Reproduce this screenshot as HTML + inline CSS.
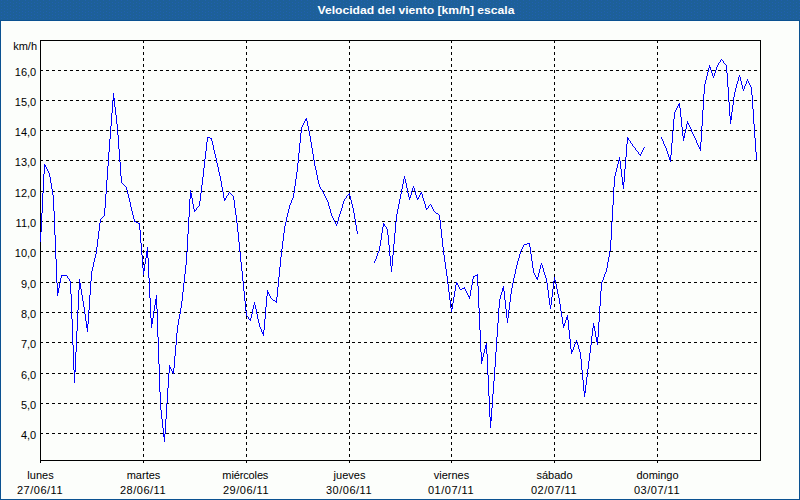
<!DOCTYPE html>
<html><head><meta charset="utf-8"><title>Velocidad del viento</title>
<style>
html,body{margin:0;padding:0;background:#fcfefb;}
body{width:800px;height:500px;overflow:hidden;position:relative;font-family:"Liberation Sans",sans-serif;}
svg{position:absolute;left:0;top:0;display:block;}
text{font-family:"Liberation Sans",sans-serif;font-size:11px;fill:#000;}
.t{font-weight:bold;fill:#fff;font-size:11px;}
</style></head><body>
<svg width="800" height="500" viewBox="0 0 800 500">
<rect x="0" y="0" width="800" height="500" fill="#fcfefb"/>
<g shape-rendering="crispEdges">
<defs><pattern id="dp" x="0" y="0" width="6" height="3" patternUnits="userSpaceOnUse"><rect width="6" height="3" fill="#1d6099"/><rect x="1" y="0" width="1" height="1" fill="#2060b0"/><rect x="4" y="2" width="1" height="1" fill="#2060b0"/></pattern></defs>
<rect x="0" y="0" width="800" height="20" fill="url(#dp)"/>
<rect x="0" y="20" width="800" height="1" fill="#0b5291"/>
<rect x="0" y="20" width="1" height="480" fill="#0b5291"/>
<rect x="799" y="20" width="1" height="480" fill="#0b5291"/>
<rect x="0" y="499" width="800" height="1" fill="#0b5291"/>
<g stroke="#000" stroke-width="1" stroke-dasharray="3 3" fill="none">
<line x1="40" y1="70.5" x2="760" y2="70.5"/>
<line x1="40" y1="100.5" x2="760" y2="100.5"/>
<line x1="40" y1="130.5" x2="760" y2="130.5"/>
<line x1="40" y1="160.5" x2="760" y2="160.5"/>
<line x1="40" y1="191.5" x2="760" y2="191.5"/>
<line x1="40" y1="221.5" x2="760" y2="221.5"/>
<line x1="40" y1="251.5" x2="760" y2="251.5"/>
<line x1="40" y1="282.5" x2="760" y2="282.5"/>
<line x1="40" y1="312.5" x2="760" y2="312.5"/>
<line x1="40" y1="342.5" x2="760" y2="342.5"/>
<line x1="40" y1="373.5" x2="760" y2="373.5"/>
<line x1="40" y1="403.5" x2="760" y2="403.5"/>
<line x1="40" y1="433.5" x2="760" y2="433.5"/>
<line x1="143.5" y1="40" x2="143.5" y2="460"/>
<line x1="246.5" y1="40" x2="246.5" y2="460"/>
<line x1="349.5" y1="40" x2="349.5" y2="460"/>
<line x1="451.5" y1="40" x2="451.5" y2="460"/>
<line x1="554.5" y1="40" x2="554.5" y2="460"/>
<line x1="657.5" y1="40" x2="657.5" y2="460"/>
</g>
<rect x="40.5" y="40.5" width="720" height="420" fill="none" stroke="#000" stroke-width="1"/>
<rect x="40" y="461" width="1" height="2" fill="#000"/>
<rect x="143" y="461" width="1" height="2" fill="#000"/>
<rect x="246" y="461" width="1" height="2" fill="#000"/>
<rect x="349" y="461" width="1" height="2" fill="#000"/>
<rect x="451" y="461" width="1" height="2" fill="#000"/>
<rect x="554" y="461" width="1" height="2" fill="#000"/>
<rect x="657" y="461" width="1" height="2" fill="#000"/>
<path fill="#0000ff" d="M40 232h1v10h-1zM41 213h1v19h-1zM42 193h1v20h-1zM43 174h1v19h-1zM44 164h1v10h-1zM45 165h1v2h-1zM46 167h1v2h-1zM47 169h1v2h-1zM48 171h1v2h-1zM49 173h1v4h-1zM50 177h1v6h-1zM51 183h1v6h-1zM52 189h1v6h-1zM53 195h1v16h-1zM54 211h1v24h-1zM55 235h1v24h-1zM56 259h1v24h-1zM57 283h1v13h-1zM58 288h1v5h-1zM59 283h1v5h-1zM60 278h1v5h-1zM61 275h1v3h-1zM62 275h1v1h-1zM63 275h1v1h-1zM64 275h1v1h-1zM65 275h1v1h-1zM66 275h1v1h-1zM67 276h1v2h-1zM68 278h1v1h-1zM69 279h1v2h-1zM70 281h1v13h-1zM71 294h1v25h-1zM72 319h1v26h-1zM73 345h1v25h-1zM74 370h1v13h-1zM75 352h1v20h-1zM76 331h1v21h-1zM77 310h1v21h-1zM78 290h1v20h-1zM79 279h1v11h-1zM80 283h1v6h-1zM81 289h1v6h-1zM82 295h1v6h-1zM83 301h1v6h-1zM84 307h1v7h-1zM85 314h1v7h-1zM86 321h1v7h-1zM87 324h1v8h-1zM88 310h1v14h-1zM89 295h1v15h-1zM90 281h1v14h-1zM91 271h1v10h-1zM92 267h1v4h-1zM93 262h1v5h-1zM94 258h1v4h-1zM95 254h1v4h-1zM96 247h1v7h-1zM97 239h1v8h-1zM98 231h1v8h-1zM99 223h1v8h-1zM100 219h1v4h-1zM101 218h1v1h-1zM102 217h1v1h-1zM103 216h1v1h-1zM104 208h1v8h-1zM105 194h1v14h-1zM106 180h1v14h-1zM107 166h1v14h-1zM108 152h1v14h-1zM109 139h1v13h-1zM110 126h1v13h-1zM111 113h1v13h-1zM112 100h1v13h-1zM113 93h1v7h-1zM114 98h1v9h-1zM115 107h1v8h-1zM116 115h1v9h-1zM117 124h1v11h-1zM118 135h1v14h-1zM119 149h1v13h-1zM120 162h1v14h-1zM121 176h1v7h-1zM122 183h1v1h-1zM123 184h1v1h-1zM124 185h1v1h-1zM125 186h1v1h-1zM126 187h1v3h-1zM127 190h1v4h-1zM128 194h1v4h-1zM129 198h1v4h-1zM130 202h1v5h-1zM131 207h1v4h-1zM132 211h1v4h-1zM133 215h1v4h-1zM134 219h1v3h-1zM135 221h1v1h-1zM136 222h1v1h-1zM137 222h1v1h-1zM138 223h1v1h-1zM139 223h1v7h-1zM140 230h1v13h-1zM141 243h1v12h-1zM142 255h1v13h-1zM143 268h1v7h-1zM144 264h1v7h-1zM145 258h1v6h-1zM146 251h1v7h-1zM147 247h1v11h-1zM148 258h1v20h-1zM149 278h1v20h-1zM150 298h1v20h-1zM151 318h1v10h-1zM152 318h1v6h-1zM153 311h1v7h-1zM154 305h1v6h-1zM155 299h1v6h-1zM156 295h1v14h-1zM157 309h1v28h-1zM158 337h1v27h-1zM159 364h1v28h-1zM160 392h1v18h-1zM161 410h1v9h-1zM162 419h1v9h-1zM163 428h1v9h-1zM164 434h1v8h-1zM165 419h1v15h-1zM166 403h1v16h-1zM167 388h1v15h-1zM168 373h1v15h-1zM169 365h1v8h-1zM170 367h1v2h-1zM171 369h1v2h-1zM172 371h1v2h-1zM173 368h1v6h-1zM174 356h1v12h-1zM175 345h1v11h-1zM176 333h1v12h-1zM177 325h1v8h-1zM178 319h1v6h-1zM179 314h1v5h-1zM180 308h1v6h-1zM181 301h1v7h-1zM182 292h1v9h-1zM183 283h1v9h-1zM184 274h1v9h-1zM185 265h1v9h-1zM186 252h1v13h-1zM187 234h1v18h-1zM188 217h1v17h-1zM189 199h1v18h-1zM190 190h1v9h-1zM191 193h1v5h-1zM192 198h1v6h-1zM193 204h1v5h-1zM194 209h1v3h-1zM195 210h1v1h-1zM196 208h1v2h-1zM197 207h1v1h-1zM198 206h1v1h-1zM199 201h1v5h-1zM200 193h1v8h-1zM201 185h1v8h-1zM202 177h1v8h-1zM203 168h1v9h-1zM204 159h1v9h-1zM205 151h1v8h-1zM206 142h1v9h-1zM207 137h1v5h-1zM208 137h1v1h-1zM209 137h1v1h-1zM210 138h1v1h-1zM211 138h1v3h-1zM212 141h1v4h-1zM213 145h1v5h-1zM214 150h1v4h-1zM215 154h1v4h-1zM216 158h1v5h-1zM217 163h1v4h-1zM218 167h1v5h-1zM219 172h1v4h-1zM220 176h1v5h-1zM221 181h1v6h-1zM222 187h1v5h-1zM223 192h1v6h-1zM224 198h1v3h-1zM225 198h1v2h-1zM226 196h1v2h-1zM227 195h1v1h-1zM228 193h1v2h-1zM229 192h1v1h-1zM230 193h1v1h-1zM231 194h1v1h-1zM232 195h1v1h-1zM233 196h1v4h-1zM234 200h1v8h-1zM235 208h1v7h-1zM236 215h1v8h-1zM237 223h1v9h-1zM238 232h1v10h-1zM239 242h1v10h-1zM240 252h1v10h-1zM241 262h1v9h-1zM242 271h1v10h-1zM243 281h1v10h-1zM244 291h1v10h-1zM245 301h1v10h-1zM246 311h1v5h-1zM247 316h1v1h-1zM248 317h1v2h-1zM249 319h1v1h-1zM250 318h1v3h-1zM251 314h1v4h-1zM252 309h1v5h-1zM253 305h1v4h-1zM254 302h1v3h-1zM255 305h1v4h-1zM256 309h1v5h-1zM257 314h1v5h-1zM258 319h1v4h-1zM259 323h1v4h-1zM260 327h1v2h-1zM261 329h1v3h-1zM262 332h1v2h-1zM263 330h1v6h-1zM264 319h1v11h-1zM265 307h1v12h-1zM266 296h1v11h-1zM267 290h1v6h-1zM268 292h1v2h-1zM269 294h1v2h-1zM270 296h1v2h-1zM271 298h1v1h-1zM272 299h1v1h-1zM273 300h1v1h-1zM274 300h1v1h-1zM275 301h1v1h-1zM276 297h1v6h-1zM277 287h1v10h-1zM278 277h1v10h-1zM279 267h1v10h-1zM280 257h1v10h-1zM281 249h1v8h-1zM282 241h1v8h-1zM283 233h1v8h-1zM284 226h1v7h-1zM285 222h1v4h-1zM286 217h1v5h-1zM287 213h1v4h-1zM288 209h1v4h-1zM289 205h1v4h-1zM290 203h1v2h-1zM291 200h1v3h-1zM292 198h1v2h-1zM293 193h1v5h-1zM294 186h1v7h-1zM295 179h1v7h-1zM296 172h1v7h-1zM297 163h1v9h-1zM298 153h1v10h-1zM299 143h1v10h-1zM300 133h1v10h-1zM301 127h1v6h-1zM302 125h1v2h-1zM303 123h1v2h-1zM304 121h1v2h-1zM305 119h1v2h-1zM306 118h1v3h-1zM307 121h1v5h-1zM308 126h1v5h-1zM309 131h1v5h-1zM310 136h1v6h-1zM311 142h1v6h-1zM312 148h1v6h-1zM313 154h1v6h-1zM314 160h1v6h-1zM315 166h1v4h-1zM316 170h1v5h-1zM317 175h1v5h-1zM318 180h1v4h-1zM319 184h1v3h-1zM320 187h1v2h-1zM321 189h1v1h-1zM322 190h1v2h-1zM323 192h1v2h-1zM324 194h1v2h-1zM325 196h1v2h-1zM326 198h1v2h-1zM327 200h1v2h-1zM328 202h1v4h-1zM329 206h1v3h-1zM330 209h1v4h-1zM331 213h1v3h-1zM332 216h1v2h-1zM333 218h1v2h-1zM334 220h1v2h-1zM335 222h1v2h-1zM336 224h1v2h-1zM337 221h1v3h-1zM338 217h1v4h-1zM339 214h1v3h-1zM340 211h1v3h-1zM341 208h1v3h-1zM342 204h1v4h-1zM343 201h1v3h-1zM344 199h1v2h-1zM345 198h1v1h-1zM346 196h1v2h-1zM347 195h1v1h-1zM348 194h1v1h-1zM349 193h1v3h-1zM350 196h1v4h-1zM351 200h1v4h-1zM352 204h1v4h-1zM353 208h1v5h-1zM354 213h1v6h-1zM355 219h1v6h-1zM356 225h1v6h-1zM357 231h1v3h-1zM374 261h1v2h-1zM375 259h1v2h-1zM376 256h1v3h-1zM377 253h1v3h-1zM378 251h1v2h-1zM379 246h1v5h-1zM380 240h1v6h-1zM381 233h1v7h-1zM382 227h1v6h-1zM383 223h1v4h-1zM384 224h1v2h-1zM385 226h1v1h-1zM386 227h1v2h-1zM387 229h1v6h-1zM388 235h1v10h-1zM389 245h1v11h-1zM390 256h1v10h-1zM391 266h1v6h-1zM392 255h1v11h-1zM393 244h1v11h-1zM394 233h1v11h-1zM395 222h1v11h-1zM396 214h1v8h-1zM397 209h1v5h-1zM398 204h1v5h-1zM399 199h1v5h-1zM400 194h1v5h-1zM401 189h1v5h-1zM402 184h1v5h-1zM403 179h1v5h-1zM404 176h1v3h-1zM405 179h1v4h-1zM406 183h1v5h-1zM407 188h1v5h-1zM408 193h1v4h-1zM409 197h1v3h-1zM410 195h1v3h-1zM411 191h1v4h-1zM412 188h1v3h-1zM413 186h1v2h-1zM414 188h1v3h-1zM415 191h1v4h-1zM416 195h1v3h-1zM417 198h1v2h-1zM418 197h1v2h-1zM419 195h1v2h-1zM420 193h1v2h-1zM421 192h1v2h-1zM422 194h1v4h-1zM423 198h1v3h-1zM424 201h1v3h-1zM425 204h1v4h-1zM426 208h1v2h-1zM427 208h1v1h-1zM428 206h1v2h-1zM429 205h1v1h-1zM430 204h1v1h-1zM431 205h1v2h-1zM432 207h1v2h-1zM433 209h1v2h-1zM434 211h1v1h-1zM435 212h1v1h-1zM436 213h1v1h-1zM437 213h1v1h-1zM438 214h1v1h-1zM439 215h1v5h-1zM440 220h1v9h-1zM441 229h1v9h-1zM442 238h1v9h-1zM443 247h1v8h-1zM444 255h1v7h-1zM445 262h1v7h-1zM446 269h1v7h-1zM447 276h1v8h-1zM448 284h1v8h-1zM449 292h1v8h-1zM450 300h1v8h-1zM451 308h1v4h-1zM452 303h1v6h-1zM453 297h1v6h-1zM454 291h1v6h-1zM455 285h1v6h-1zM456 282h1v3h-1zM457 283h1v2h-1zM458 285h1v2h-1zM459 287h1v2h-1zM460 289h1v1h-1zM461 289h1v1h-1zM462 288h1v1h-1zM463 288h1v1h-1zM464 287h1v2h-1zM465 289h1v2h-1zM466 291h1v2h-1zM467 293h1v2h-1zM468 295h1v2h-1zM469 296h1v3h-1zM470 290h1v6h-1zM471 285h1v5h-1zM472 279h1v6h-1zM473 276h1v3h-1zM474 276h1v1h-1zM475 275h1v1h-1zM476 275h1v1h-1zM477 274h1v12h-1zM478 286h1v22h-1zM479 308h1v22h-1zM480 330h1v22h-1zM481 352h1v12h-1zM482 357h1v4h-1zM483 353h1v4h-1zM484 349h1v4h-1zM485 345h1v4h-1zM486 343h1v11h-1zM487 354h1v21h-1zM488 375h1v21h-1zM489 396h1v21h-1zM490 417h1v11h-1zM491 408h1v13h-1zM492 394h1v14h-1zM493 381h1v13h-1zM494 367h1v14h-1zM495 352h1v15h-1zM496 337h1v15h-1zM497 323h1v14h-1zM498 308h1v15h-1zM499 299h1v9h-1zM500 295h1v4h-1zM501 292h1v3h-1zM502 288h1v4h-1zM503 286h1v5h-1zM504 291h1v9h-1zM505 300h1v9h-1zM506 309h1v9h-1zM507 318h1v5h-1zM508 310h1v8h-1zM509 302h1v8h-1zM510 294h1v8h-1zM511 288h1v6h-1zM512 283h1v5h-1zM513 278h1v5h-1zM514 274h1v4h-1zM515 269h1v5h-1zM516 265h1v4h-1zM517 261h1v4h-1zM518 258h1v3h-1zM519 254h1v4h-1zM520 251h1v3h-1zM521 249h1v2h-1zM522 247h1v2h-1zM523 245h1v2h-1zM524 244h1v1h-1zM525 244h1v1h-1zM526 244h1v1h-1zM527 243h1v1h-1zM528 243h1v1h-1zM529 243h1v4h-1zM530 247h1v7h-1zM531 254h1v7h-1zM532 261h1v7h-1zM533 268h1v5h-1zM534 273h1v2h-1zM535 275h1v2h-1zM536 277h1v2h-1zM537 277h1v3h-1zM538 273h1v4h-1zM539 269h1v4h-1zM540 265h1v4h-1zM541 263h1v2h-1zM542 265h1v3h-1zM543 268h1v4h-1zM544 272h1v3h-1zM545 275h1v3h-1zM546 278h1v5h-1zM547 283h1v7h-1zM548 290h1v8h-1zM549 298h1v7h-1zM550 305h1v4h-1zM551 297h1v8h-1zM552 289h1v8h-1zM553 281h1v8h-1zM554 277h1v4h-1zM555 280h1v4h-1zM556 284h1v5h-1zM557 289h1v5h-1zM558 294h1v4h-1zM559 298h1v6h-1zM560 304h1v7h-1zM561 311h1v6h-1zM562 317h1v7h-1zM563 324h1v4h-1zM564 323h1v3h-1zM565 320h1v3h-1zM566 317h1v3h-1zM567 315h1v5h-1zM568 320h1v10h-1zM569 330h1v9h-1zM570 339h1v10h-1zM571 349h1v5h-1zM572 350h1v2h-1zM573 347h1v3h-1zM574 344h1v3h-1zM575 342h1v2h-1zM576 340h1v2h-1zM577 342h1v3h-1zM578 345h1v4h-1zM579 349h1v3h-1zM580 352h1v7h-1zM581 359h1v11h-1zM582 370h1v10h-1zM583 380h1v11h-1zM584 391h1v6h-1zM585 385h1v8h-1zM586 377h1v8h-1zM587 369h1v8h-1zM588 361h1v8h-1zM589 353h1v8h-1zM590 345h1v8h-1zM591 336h1v9h-1zM592 328h1v8h-1zM593 323h1v5h-1zM594 326h1v5h-1zM595 331h1v6h-1zM596 337h1v5h-1zM597 337h1v8h-1zM598 322h1v15h-1zM599 306h1v16h-1zM600 291h1v15h-1zM601 282h1v9h-1zM602 280h1v2h-1zM603 277h1v3h-1zM604 274h1v3h-1zM605 272h1v2h-1zM606 268h1v4h-1zM607 262h1v6h-1zM608 257h1v5h-1zM609 251h1v6h-1zM610 240h1v11h-1zM611 222h1v18h-1zM612 205h1v17h-1zM613 187h1v18h-1zM614 176h1v11h-1zM615 172h1v4h-1zM616 168h1v4h-1zM617 164h1v4h-1zM618 160h1v4h-1zM619 157h1v4h-1zM620 161h1v8h-1zM621 169h1v8h-1zM622 177h1v8h-1zM623 182h1v7h-1zM624 169h1v13h-1zM625 157h1v12h-1zM626 144h1v13h-1zM627 137h1v7h-1zM628 138h1v2h-1zM629 140h1v1h-1zM630 141h1v2h-1zM631 143h1v1h-1zM632 144h1v2h-1zM633 146h1v1h-1zM634 147h1v1h-1zM635 148h1v2h-1zM636 150h1v1h-1zM637 151h1v1h-1zM638 152h1v2h-1zM639 154h1v1h-1zM640 154h1v2h-1zM641 152h1v2h-1zM642 150h1v2h-1zM643 148h1v2h-1zM644 147h1v1h-1zM661 137h1v2h-1zM662 139h1v2h-1zM663 141h1v3h-1zM664 144h1v2h-1zM665 146h1v2h-1zM666 148h1v3h-1zM667 151h1v3h-1zM668 154h1v3h-1zM669 157h1v3h-1zM670 155h1v7h-1zM671 143h1v12h-1zM672 131h1v12h-1zM673 119h1v12h-1zM674 112h1v7h-1zM675 110h1v2h-1zM676 108h1v2h-1zM677 106h1v2h-1zM678 104h1v2h-1zM679 103h1v5h-1zM680 108h1v9h-1zM681 117h1v10h-1zM682 127h1v9h-1zM683 136h1v5h-1zM684 133h1v5h-1zM685 129h1v4h-1zM686 124h1v5h-1zM687 121h1v3h-1zM688 123h1v2h-1zM689 125h1v2h-1zM690 127h1v2h-1zM691 129h1v3h-1zM692 132h1v2h-1zM693 134h1v2h-1zM694 136h1v2h-1zM695 138h1v2h-1zM696 140h1v3h-1zM697 143h1v2h-1zM698 145h1v2h-1zM699 147h1v2h-1zM700 142h1v9h-1zM701 126h1v16h-1zM702 110h1v16h-1zM703 94h1v16h-1zM704 84h1v10h-1zM705 80h1v4h-1zM706 76h1v4h-1zM707 72h1v4h-1zM708 68h1v4h-1zM709 65h1v3h-1zM710 67h1v3h-1zM711 70h1v3h-1zM712 73h1v3h-1zM713 76h1v2h-1zM714 73h1v3h-1zM715 70h1v3h-1zM716 67h1v3h-1zM717 65h1v2h-1zM718 63h1v2h-1zM719 62h1v1h-1zM720 60h1v2h-1zM721 59h1v1h-1zM722 60h1v1h-1zM723 61h1v2h-1zM724 63h1v1h-1zM725 64h1v1h-1zM726 65h1v8h-1zM727 73h1v14h-1zM728 87h1v15h-1zM729 102h1v14h-1zM730 116h1v8h-1zM731 112h1v8h-1zM732 105h1v7h-1zM733 97h1v8h-1zM734 92h1v5h-1zM735 88h1v4h-1zM736 84h1v4h-1zM737 81h1v3h-1zM738 77h1v4h-1zM739 75h1v2h-1zM740 77h1v4h-1zM741 81h1v4h-1zM742 85h1v4h-1zM743 89h1v2h-1zM744 86h1v3h-1zM745 84h1v2h-1zM746 81h1v3h-1zM747 79h1v2h-1zM748 81h1v2h-1zM749 83h1v2h-1zM750 85h1v2h-1zM751 87h1v8h-1zM752 95h1v14h-1zM753 109h1v15h-1zM754 124h1v14h-1zM755 138h1v14h-1zM756 152h1v8h-1z"/>
</g>
<text class="t" x="317.5" y="14" textLength="197" lengthAdjust="spacingAndGlyphs">Velocidad del viento [km/h] escala</text>
<text x="37" y="50" text-anchor="end">km/h</text>
<text x="36.2" y="76" text-anchor="end">16,0</text>
<text x="36.2" y="106" text-anchor="end">15,0</text>
<text x="36.2" y="136" text-anchor="end">14,0</text>
<text x="36.2" y="166" text-anchor="end">13,0</text>
<text x="36.2" y="197" text-anchor="end">12,0</text>
<text x="36.2" y="227" text-anchor="end">11,0</text>
<text x="36.2" y="257" text-anchor="end">10,0</text>
<text x="36.2" y="288" text-anchor="end">9,0</text>
<text x="36.2" y="318" text-anchor="end">8,0</text>
<text x="36.2" y="348" text-anchor="end">7,0</text>
<text x="36.2" y="379" text-anchor="end">6,0</text>
<text x="36.2" y="409" text-anchor="end">5,0</text>
<text x="36.2" y="439" text-anchor="end">4,0</text>
<text x="40.5" y="479" text-anchor="middle">lunes</text>
<text x="17" y="494" textLength="45.5" lengthAdjust="spacing">27/06/11</text>
<text x="143.5" y="479" text-anchor="middle">martes</text>
<text x="120" y="494" textLength="45.5" lengthAdjust="spacing">28/06/11</text>
<text x="245.3" y="479" text-anchor="middle" style="letter-spacing:-0.13px">miércoles</text>
<text x="223" y="494" textLength="45.5" lengthAdjust="spacing">29/06/11</text>
<text x="349.5" y="479" text-anchor="middle">jueves</text>
<text x="326" y="494" textLength="45.5" lengthAdjust="spacing">30/06/11</text>
<text x="451.5" y="479" text-anchor="middle">viernes</text>
<text x="428" y="494" textLength="45.5" lengthAdjust="spacing">01/07/11</text>
<text x="554.5" y="479" text-anchor="middle">sábado</text>
<text x="531" y="494" textLength="45.5" lengthAdjust="spacing">02/07/11</text>
<text x="657.5" y="479" text-anchor="middle">domingo</text>
<text x="634" y="494" textLength="45.5" lengthAdjust="spacing">03/07/11</text>
</svg></body></html>
